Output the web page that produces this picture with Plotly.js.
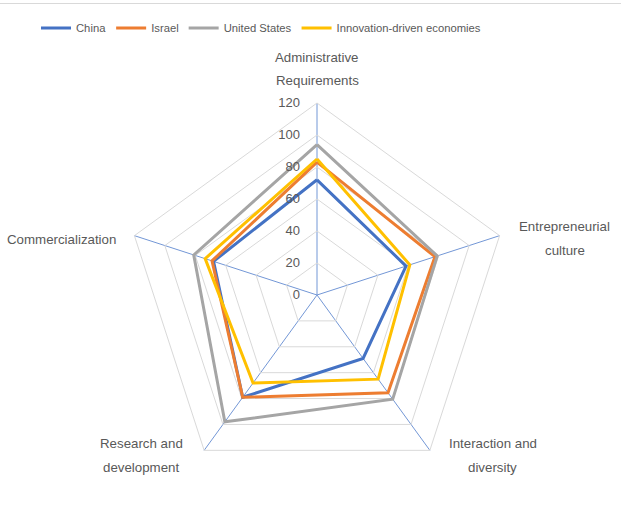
<!DOCTYPE html>
<html>
<head>
<meta charset="utf-8">
<script src="https://cdn.plot.ly/plotly-3.0.1.min.js"></script>
<style>
html,body{margin:0;padding:0;background:#fff;}
#wrap{position:relative;width:621px;height:508px;}
#chart{width:621px;height:508px;}
#topline{position:absolute;left:0;top:3px;width:621px;height:0;border-top:1px solid #d9d9d9;z-index:5;}
</style>
</head>
<body>
<div id="wrap"><div id="chart"></div><div id="topline"></div></div>
<script>
var categories = ["Administrative<br>Requirements", "Entrepreneurial<br>culture", "Interaction and<br>diversity", "Research and<br>development", "Commercialization"];
var china = [72, 58.5, 49, 79, 68];
var israel = [83, 77.5, 75.5, 79, 69];
var unitedStates = [94, 79, 80.5, 98, 81];
var innovationDriven = [85, 61, 65, 68, 73.5];
var seriesNames = ["China", "Israel", "United States", "Innovation-driven economies"];
var seriesColors = ["#4472C4", "#ED7D31", "#A5A5A5", "#FFC000"];
var radialTicks = [0, 20, 40, 60, 80, 100, 120];

var W = 621, H = 508;
var polarDomX = [125/W, 509/W], polarDomY = [21/H, 405/H];

function closeLoop(a){ return a.concat([a[0]]); }
var allSeries = [china, israel, unitedStates, innovationDriven];
var traces = allSeries.map(function(vals, i){
  return {
    type: "scatterpolar",
    mode: "lines",
    r: closeLoop(vals),
    theta: closeLoop(categories),
    name: seriesNames[i],
    line: {color: seriesColors[i], width: 3},
    hoverinfo: "none"
  };
});

// category labels placed just outside each vertex of the pentagon
var labelOffsets = [[0, -34], [65, 3], [63, 5], [-63, 5], [-73, 4]]; // px from vertex
var cx = (polarDomX[0] + polarDomX[1]) / 2 * W;
var cy = H - (polarDomY[0] + polarDomY[1]) / 2 * H;
var R = (polarDomX[1] - polarDomX[0]) * W / 2;
var annotations = [];
categories.forEach(function(cat, i){
  var ang = (90 - 360 / categories.length * i) * Math.PI / 180;
  var vx = cx + R * Math.cos(ang), vy = cy - R * Math.sin(ang);
  var tx = vx + labelOffsets[i][0], ty = vy + labelOffsets[i][1];
  var lines = cat.split("<br>");
  lines.forEach(function(line, j){
    annotations.push({
      xref: "paper", yref: "paper", x: tx / W, y: 1 - ty / H,
      xanchor: "center", yanchor: "middle", showarrow: false,
      text: line, yshift: -(j - (lines.length - 1) / 2) * 23.5,
      font: {size: 13.3, color: "#595959"}
    });
  });
});

var layout = {
  width: W, height: H,
  margin: {l: 0, r: 0, t: 0, b: 0},
  paper_bgcolor: "#fff",
  font: {family: "Liberation Sans, Arial, sans-serif", size: 12, color: "#595959"},
  showlegend: true,
  legend: {orientation: "h", x: 261/W, xanchor: "center", y: 0.945, yanchor: "middle",
           font: {size: 11.25, color: "#595959"}, itemwidth: 30},
  annotations: annotations,
  polar: {
    domain: {x: polarDomX, y: polarDomY},
    gridshape: "linear",
    bgcolor: "rgba(0,0,0,0)",
    angularaxis: {
      direction: "clockwise", rotation: 90,
      showline: true, linecolor: "#D9D9D9", linewidth: 1,
      gridcolor: "#7397D6", gridwidth: 1,
      ticks: "", showticklabels: false
    },
    radialaxis: {
      range: [0, 120], tickvals: radialTicks, angle: 90, tickangle: 90,
      showline: false, ticks: "outside", ticklen: 12, tickcolor: "rgba(0,0,0,0)",
      gridcolor: "#D9D9D9", gridwidth: 1,
      tickfont: {size: 13, color: "#595959"}, side: "counterclockwise"
    }
  }
};
Plotly.newPlot("chart", traces, layout, {displayModeBar: false, staticPlot: true});
</script>
</body>
</html>
